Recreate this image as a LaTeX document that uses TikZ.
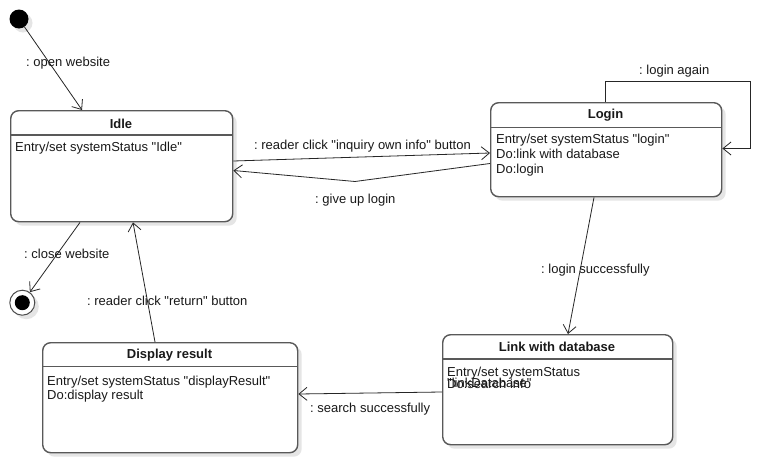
\documentclass[tikz,border=0pt]{standalone}
\usepackage{fontspec}
\setmainfont{Liberation Sans}
\usetikzlibrary{arrows.meta,shadows,calc}
\frenchspacing
\newcommand{\qq}{\textquotedbl}
\begin{document}
\frenchspacing
\begin{tikzpicture}[x=1pt,y=-1pt,
  shad/.style={drop shadow={shadow xshift=4pt,shadow yshift=-4pt,fill=black!10,opacity=1}},
  statebox/.style={draw=black!65,line width=1.4pt,rounded corners=8pt,fill=white,shad,anchor=north west,inner sep=0pt},
  divider/.style={draw=black!65,line width=1.4pt},
  titletext/.style={font=\fontsize{13}{15}\selectfont\bfseries,inner sep=0pt,text=black!90},
  bodytext/.style={font=\fontsize{13}{15}\selectfont,inner sep=0pt,anchor=base west,text=black!90},
  lbl/.style={font=\fontsize{13}{15}\selectfont,inner sep=0pt,anchor=base west,text=black!90},
  conn/.style={draw=black!85,line width=0.8pt,-{Straight Barb[length=8pt,width=13pt]}}]
\useasboundingbox[fill=white] (0,0) rectangle (761,463);

% initial and final states
\node[circle,fill=black,minimum size=19pt,inner sep=0pt,shad] (init) at (19,19) {};
\node[circle,draw=black!70,line width=1pt,fill=white,minimum size=25pt,inner sep=0pt,shad] (final) at (22.3,302.7) {};
\node[circle,fill=black,minimum size=15pt,inner sep=0pt] (finalin) at (final.center) {};

% state boxes
\node[statebox,minimum width=222pt,minimum height=111pt] (idle) at (10,110) {};
\node[statebox,minimum width=231pt,minimum height=94pt] (login) at (490,102) {};
\node[statebox,minimum width=230pt,minimum height=110pt] (link) at (442,334) {};
\node[statebox,minimum width=255pt,minimum height=110pt] (disp) at (42,342) {};

% titles
\node[titletext] (idleT) at (121,123.5) {Idle};
\node[titletext] (loginT) at (605.5,115.5) {Login};
\node[titletext] (linkT) at (557,346.7) {Link with database};
\node[titletext] (dispT) at (169.5,355) {Display result};

% dividers
\draw[divider] (idle.west |- 0,135) coordinate (d1) -- (idle.east |- d1);
\draw[divider] (login.west |- 0,127.3) coordinate (d2) -- (login.east |- d2);
\draw[divider] (link.west |- 0,359) coordinate (d3) -- (link.east |- d3);
\draw[divider] (disp.west |- 0,366.7) coordinate (d4) -- (disp.east |- d4);

% bodies
\node[bodytext] (idleB) at (15,151.5) {Entry/set systemStatus \qq Idle\qq};
\node[bodytext] (loginB1) at (496,143.5) {Entry/set systemStatus \qq login\qq};
\node[bodytext] (loginB2) at (496,158.5) {Do:link with database};
\node[bodytext] (loginB3) at (496,173.5) {Do:login};
\node[bodytext] (linkB1) at (447,376) {Entry/set systemStatus};
\node[bodytext] (linkB2) at (447,387.5) {\qq linkDatabase\qq};
\node[bodytext] (linkB3) at (447,388) {Do:search info};
\node[bodytext] (dispB1) at (47,385.5) {Entry/set systemStatus \qq displayResult\qq};
\node[bodytext] (dispB2) at (47,399.5) {Do:display result};

% connectors
\draw[conn] (init) -- ($(idle.north west)+(72,0)$);
\node[lbl] (l1) at (26,66.5) {: open website};

\draw[conn] ($(idle.south west)+(70,0)$) -- (final);
\node[lbl] (l2) at (24,258.5) {: close website};

\draw[conn] ($(disp.north west)+(113,0)$) -- ($(idle.south west)+(123,0)$);
\node[lbl] (l3) at (87,305.5) {: reader click \qq return\qq{} button};

\draw[conn] ($(idle.north east)+(0,51)$) -- ($(login.north west)+(0,51)$);
\node[lbl] (l4) at (254,149) {: reader click \qq inquiry own info\qq{} button};

\coordinate (gb) at (355,181.5);
\draw[conn] ($(login.north west)+(0,61.5)$) -- (gb) -- ($(idle.north east)+(0,60.5)$);
\node[lbl] (l5) at (315,203) {: give up login};

\draw[conn] ($(login.north west)+(115,0)$) |- (750,81.7) |- ($(login.north east)+(0,46.5)$);
\node[lbl] (l6) at (639,74) {: login again};

\draw[conn] ($(login.south west)+(104,0)$) -- ($(link.north west)+(126,0)$);
\node[lbl] (l7) at (541,273) {: login successfully};

\draw[conn] ($(link.north west)+(0,58)$) -- ($(disp.north east)+(0,52)$);
\node[lbl] (l8) at (310,412) {: search successfully};
\end{tikzpicture}
\end{document}
